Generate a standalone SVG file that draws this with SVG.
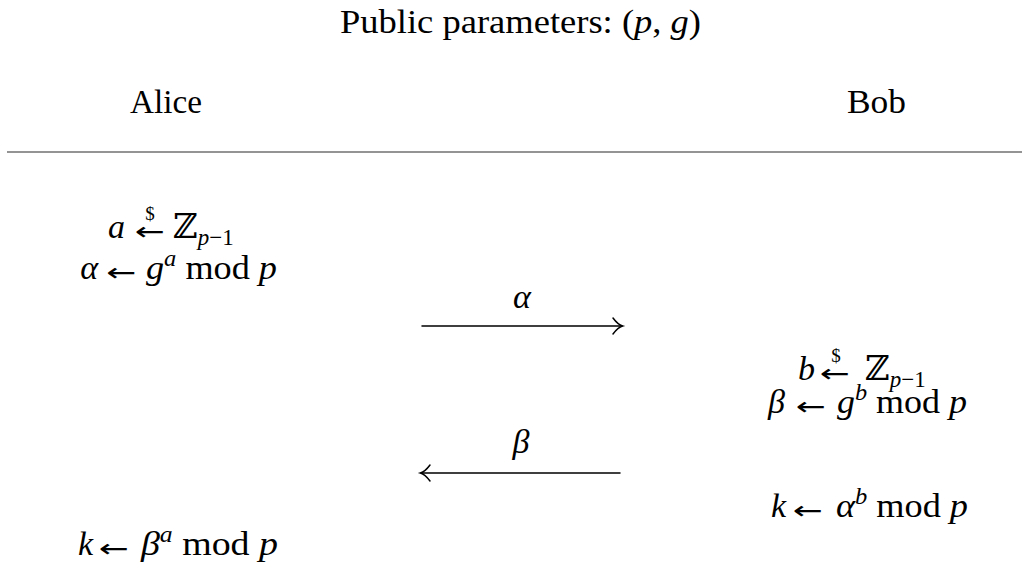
<svg xmlns="http://www.w3.org/2000/svg" width="1022" height="566" viewBox="0 0 1022 566">
<style>
.t{font-family:"Liberation Serif","DejaVu Serif",serif;font-size:34px;fill:#000}
.i{font-style:italic}
.s{font-size:23px}
.a{font-family:"DejaVu Sans",sans-serif;font-size:25px;fill:#000}
.d{font-family:"Liberation Serif","DejaVu Serif",serif;font-size:19px;fill:#000}
.z{font-family:"DejaVu Serif","Liberation Serif",serif}
.arr{stroke:#000;stroke-width:1.5;fill:none;stroke-linecap:round}
</style>
<rect width="1022" height="566" fill="#fff"/>
<g id="title">
<text class="t" x="520.5" y="33" text-anchor="middle" textLength="361" lengthAdjust="spacingAndGlyphs">Public parameters:  (<tspan class="i">p</tspan>, <tspan class="i">g</tspan>)</text>
</g>
<line x1="7" y1="152" x2="1022" y2="152" stroke="#707070" stroke-width="1.6"/>
<g id="alice">
<text class="t" x="166" y="113" text-anchor="middle" textLength="72" lengthAdjust="spacingAndGlyphs">Alice</text>
<text class="t i" x="125" y="238" text-anchor="end">a</text>
<text class="a" x="150" y="240" text-anchor="middle" textLength="30" lengthAdjust="spacingAndGlyphs">←</text>
<text class="d" x="150" y="220" text-anchor="middle">$</text>
<text class="t" x="173" y="238"><tspan class="z">ℤ</tspan><tspan class="s i" dy="7">p</tspan><tspan class="s">−1</tspan></text>
<text class="t i" x="98" y="279" text-anchor="end">α</text>
<text class="a" x="121.5" y="281" text-anchor="middle" textLength="30" lengthAdjust="spacingAndGlyphs">←</text>
<text class="t" x="146" y="279" textLength="131" lengthAdjust="spacingAndGlyphs"><tspan class="i">g</tspan><tspan class="s i" dy="-13">a</tspan><tspan dy="13"> mod </tspan><tspan class="i">p</tspan></text>
<text class="t i" x="93" y="555" text-anchor="end">k</text>
<text class="a" x="114" y="557" text-anchor="middle" textLength="30" lengthAdjust="spacingAndGlyphs">←</text>
<text class="t" x="141" y="555" textLength="137" lengthAdjust="spacingAndGlyphs"><tspan class="i">β</tspan><tspan class="s i" dy="-13">a</tspan><tspan dy="13"> mod </tspan><tspan class="i">p</tspan></text>
</g>
<g id="bob">
<text class="t" x="876.5" y="113" text-anchor="middle" textLength="59" lengthAdjust="spacingAndGlyphs">Bob</text>
<text class="t i" x="815" y="380" text-anchor="end">b</text>
<text class="a" x="835" y="382" text-anchor="middle" textLength="30" lengthAdjust="spacingAndGlyphs">←</text>
<text class="d" x="836" y="362" text-anchor="middle">$</text>
<text class="t" x="865" y="380"><tspan class="z">ℤ</tspan><tspan class="s i" dy="7">p</tspan><tspan class="s">−1</tspan></text>
<text class="t i" x="785" y="413" text-anchor="end">β</text>
<text class="a" x="811" y="415" text-anchor="middle" textLength="30" lengthAdjust="spacingAndGlyphs">←</text>
<text class="t" x="837" y="413" textLength="130" lengthAdjust="spacingAndGlyphs"><tspan class="i">g</tspan><tspan class="s i" dy="-13">b</tspan><tspan dy="13"> mod </tspan><tspan class="i">p</tspan></text>
<text class="t i" x="786" y="517" text-anchor="end">k</text>
<text class="a" x="808" y="519" text-anchor="middle" textLength="30" lengthAdjust="spacingAndGlyphs">←</text>
<text class="t" x="836" y="517" textLength="132" lengthAdjust="spacingAndGlyphs"><tspan class="i">α</tspan><tspan class="s i" dy="-13">b</tspan><tspan dy="13"> mod </tspan><tspan class="i">p</tspan></text>
</g>
<g id="connectors">
<line class="arr" x1="422" y1="326" x2="622" y2="326"/>
<path class="arr" d="M613,318 C616,322 619,325 622.5,326 C619,327 616,330 613,334"/>
<text class="t i" x="522" y="308" text-anchor="middle">α</text>
<line class="arr" x1="421" y1="473" x2="620" y2="473"/>
<path class="arr" d="M430,465 C427,469 424,472 420.5,473 C424,474 427,477 430,481"/>
<text class="t i" x="521" y="453" text-anchor="middle">β</text>
</g>
</svg>
